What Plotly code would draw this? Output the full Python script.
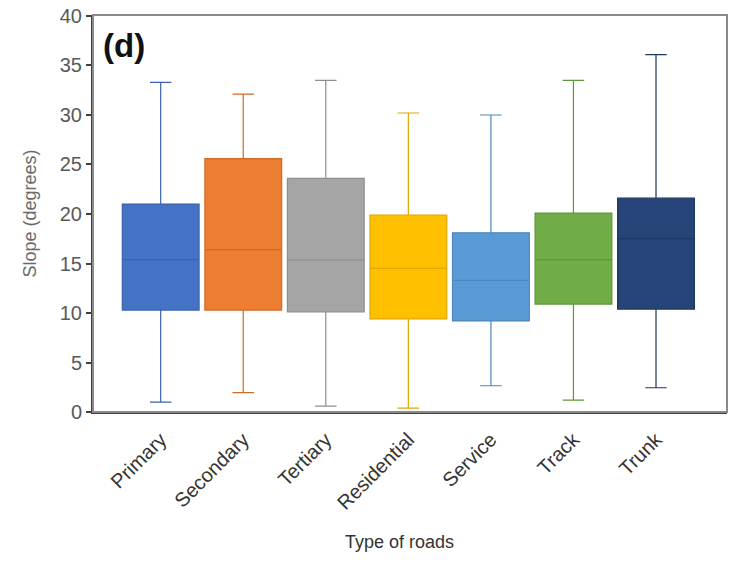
import plotly.graph_objects as go

categories = ["Primary", "Secondary", "Tertiary", "Residential", "Service", "Track", "Trunk"]
lower_whisker = [1.0, 1.95, 0.6, 0.4, 2.65, 1.2, 2.45]
q1 = [10.3, 10.3, 10.1, 9.4, 9.2, 10.9, 10.4]
median = [15.4, 16.4, 15.35, 14.5, 13.3, 15.4, 17.5]
q3 = [21.0, 25.6, 23.6, 19.9, 18.1, 20.1, 21.6]
upper_whisker = [33.3, 32.1, 33.5, 30.2, 30.0, 33.5, 36.1]
fill_colors = ["#4472C4", "#ED7D31", "#A5A5A5", "#FFC000", "#5B9BD5", "#70AD47", "#264478"]
line_colors = ["#3A63AE", "#D06A26", "#8E8E8E", "#E0A800", "#4C86BC", "#5E9639", "#1D365F"]
y_ticks = [0, 5, 10, 15, 20, 25, 30, 35, 40]

fig = go.Figure()
for i, cat in enumerate(categories):
    fig.add_trace(go.Box(
        x=[cat],
        q1=[q1[i]], median=[median[i]], q3=[q3[i]],
        lowerfence=[lower_whisker[i]], upperfence=[upper_whisker[i]],
        fillcolor=fill_colors[i],
        line=dict(color=line_colors[i], width=1.2),
        whiskerwidth=0.28,
        width=0.93,
        boxpoints=False,
        showlegend=False,
        hoverinfo="skip",
    ))

fig.add_shape(type="rect", xref="paper", yref="paper", x0=0, y0=0, x1=1, y1=1,
              line=dict(color="#8a8a8a", width=2), layer="above")

fig.add_annotation(text="<b>(d)</b>", xref="paper", yref="paper", x=0.012, y=0.975,
                   xanchor="left", yanchor="top", showarrow=False,
                   font=dict(size=33, color="#111111", family="Liberation Sans, Arial"))

fig.add_annotation(text="Type of roads", xref="paper", yref="paper", x=0.484, y=-0.328,
                   xanchor="center", yanchor="middle", showarrow=False,
                   font=dict(size=18, color="#333333", family="Liberation Sans, Arial"))

fig.update_layout(
    width=730, height=563,
    margin=dict(l=93, r=3, t=15, b=151, autoexpand=False),
    plot_bgcolor="white", paper_bgcolor="white",
    font=dict(family="Liberation Sans, Arial", size=18, color="#595959"),
    xaxis=dict(
        categoryorder="array", categoryarray=categories,
        range=[-0.82, 6.86],
        showline=True, linecolor="#404040", linewidth=2,
        ticks="", tickangle=-45, ticklabelstandoff=6,
        tickfont=dict(size=20, color="#333333"),
        showgrid=False, zeroline=False, automargin=False,
    ),
    yaxis=dict(
        range=[0, 40.1],
        tickvals=y_ticks,
        showline=True, linecolor="#404040", linewidth=2,
        ticks="outside", ticklen=5, tickcolor="#404040", tickwidth=1.5,
        ticklabeloverflow="allow",
        tickfont=dict(size=20, color="#595959"),
        title=dict(text="Slope (degrees)", font=dict(size=18, color="#6a6a6a"), standoff=18),
        showgrid=False, zeroline=False, automargin=False,
    ),
)

fig.write_html(
    "out.html",
    config={"displayModeBar": False},
    post_script="document.body.style.margin='0';document.body.style.overflow='hidden';",
)
